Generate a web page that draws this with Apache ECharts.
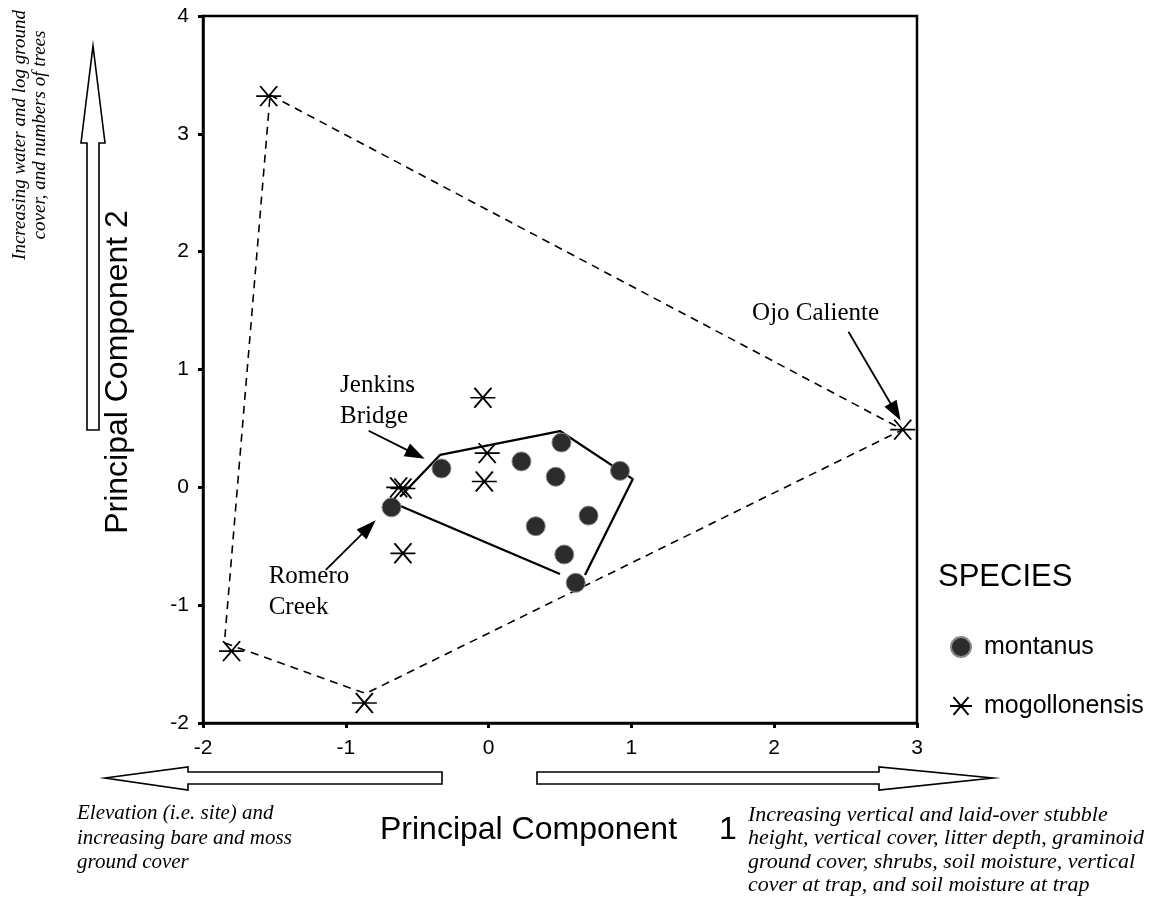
<!DOCTYPE html>
<html><head><meta charset="utf-8">
<script src="https://cdn.jsdelivr.net/npm/echarts@6/dist/echarts.min.js"></script>
<style>html,body{margin:0;padding:0;background:#fff}#c{width:1152px;height:900px}</style>
</head><body><div id="c"></div>
<script>
// ---- data ----
const xTicks = [-2, -1, 0, 1, 2, 3];
const yTicks = [-2, -1, 0, 1, 2, 3, 4];
const speciesNames = ['montanus', 'mogollonensis'];
const montanus = [[-0.68,-0.17],[-0.33,0.16],[0.23,0.22],[0.51,0.38],[0.47,0.09],[0.92,0.14],[0.70,-0.24],[0.33,-0.33],[0.53,-0.57],[0.61,-0.81]];
const mogollonensis = [[-1.54,3.32],[2.90,0.49],[-1.80,-1.39],[-0.87,-1.83],[-0.63,0.00],[-0.60,-0.01],[-0.01,0.29],[-0.03,0.05],[-0.04,0.76],[-0.60,-0.56]];
// dashed outer hull (mogollonensis) vertices
const hullOuter = [[-1.53,3.33],[2.90,0.49],[-0.86,-1.75],[-1.85,-1.32],[-1.53,3.33]];
// solid inner hull (montanus), drawn in two open pieces
const hullInnerA = [[-0.62,-0.08],[-0.34,0.275],[0.50,0.478],[1.01,0.07],[0.675,-0.744]];
const hullInnerB = [[0.50,-0.736],[-0.634,-0.15]];
// annotation arrows [from, to] in data units
const arrows = [
  [[2.52,1.32],[2.85,0.64]],
  [[-0.84,0.48],[-0.51,0.28]],
  [[-1.14,-0.70],[-0.84,-0.34]]
];
const annoTexts = ['Ojo Caliente', 'Jenkins\nBridge', 'Romero\nCreek'];
const annoAnchors = [[2.29,1.48],[-1.04,0.73],[-1.54,-0.89]];
const annoAlign = ['center','left','left'];

const SANS = 'Liberation Sans', SERIF = 'Liberation Serif';
const chart = echarts.init(document.getElementById('c'));
const star = 'path://M0,10 L25,10 M4,0 L21,20 M21,0 L4,20';

const option = {
  animation: false,
  backgroundColor: '#fff',
  grid: {left: 203, top: 16, width: 714, height: 707, show: true, borderColor: '#000', borderWidth: 2.5, backgroundColor: 'transparent'},
  xAxis: {type: 'value', min: xTicks[0], max: xTicks[xTicks.length-1], interval: 1,
    axisLine: {onZero: false, lineStyle: {color: '#000', width: 2.5}}, splitLine: {show: false},
    axisTick: {show: true, length: 5, lineStyle: {color: '#000', width: 3}},
    axisLabel: {color: '#000', fontFamily: SANS, fontSize: 21, margin: 15}},
  yAxis: {type: 'value', min: yTicks[0], max: yTicks[yTicks.length-1], interval: 1,
    axisLine: {onZero: false, lineStyle: {color: '#000', width: 2.5}}, splitLine: {show: false},
    axisTick: {show: true, length: 5, lineStyle: {color: '#000', width: 3}},
    axisLabel: {color: '#000', fontFamily: SANS, fontSize: 21, margin: 14}},
  legend: {data: speciesNames, orient: 'vertical', left: 944, top: 627, itemWidth: 22, itemHeight: 20, itemGap: 29,
    textStyle: {fontFamily: SANS, fontSize: 25, color: '#000', lineHeight: 30, padding: [0,0,0,7]}},
  series: [
    {type: 'line', data: hullOuter, symbol: 'none', silent: true, z: 1,
      lineStyle: {color: '#000', width: 1.6, type: [8, 6]},
      markLine: {silent: true, symbol: ['none', 'triangle'], symbolSize: [14, 20], animation: false,
        lineStyle: {color: '#000', width: 1.8, type: 'solid'}, label: {show: false},
        emphasis: {disabled: true},
        data: arrows.map(a => [{coord: a[0]}, {coord: a[1]}])}},
    {type: 'line', data: hullInnerA, symbol: 'none', silent: true, z: 1, lineStyle: {color: '#000', width: 2.3}},
    {type: 'line', data: hullInnerB, symbol: 'none', silent: true, z: 1, lineStyle: {color: '#000', width: 2.3}},
    {name: 'montanus', type: 'scatter', data: montanus, symbol: 'circle', symbolSize: 19, z: 3,
      itemStyle: {color: '#2c2c2c', borderColor: '#8a8a8a', borderWidth: 1, opacity: 1}},
    {name: 'mogollonensis', type: 'scatter', data: mogollonensis, symbol: star, symbolSize: [25, 20], z: 4,
      itemStyle: {color: 'rgba(0,0,0,0)', borderColor: '#000', borderWidth: 1.8, opacity: 1}}
  ]
};
chart.setOption(option);

const g = [];
annoTexts.forEach((t, i) => {
  const p = chart.convertToPixel({gridIndex: 0}, annoAnchors[i]);
  g.push({type: 'text', x: p[0], y: p[1], silent: true,
    style: {text: t, fontFamily: SERIF, fontSize: 25, lineHeight: 31, fill: '#000', align: annoAlign[i], verticalAlign: 'middle'}});
});
const arrowStyle = {fill: '#fff', stroke: '#000', lineWidth: 1.6};
g.push({type: 'polygon', silent: true, shape: {points: [[87,430],[87,143],[81,143],[93,46],[105,143],[99,143],[99,430]]}, style: arrowStyle});
g.push({type: 'polygon', silent: true, shape: {points: [[442,772],[188,772],[188,767],[105,778],[188,790],[188,784],[442,784]]}, style: arrowStyle});
g.push({type: 'polygon', silent: true, shape: {points: [[537,772],[879,772],[879,767],[993,778],[879,790],[879,784],[537,784]]}, style: arrowStyle});
g.push({type: 'text', x: 30, y: 135, rotation: Math.PI/2, silent: true,
  style: {text: 'Increasing water and log ground\ncover, and numbers of trees', fontFamily: SERIF, fontStyle: 'italic', fontSize: 19, lineHeight: 20, fill: '#000', align: 'center', verticalAlign: 'middle'}});
g.push({type: 'text', x: 118, y: 372, rotation: Math.PI/2, silent: true,
  style: {text: 'Principal Component 2', fontFamily: SANS, fontSize: 32, fill: '#000', align: 'center', verticalAlign: 'middle'}});
g.push({type: 'text', x: 380, y: 830, silent: true,
  style: {text: 'Principal Component', fontFamily: SANS, fontSize: 32, fill: '#000', align: 'left', verticalAlign: 'middle'}});
g.push({type: 'text', x: 728, y: 830, silent: true,
  style: {text: '1', fontFamily: SANS, fontSize: 32, fill: '#000', align: 'center', verticalAlign: 'middle'}});
g.push({type: 'text', x: 77, y: 838, silent: true,
  style: {text: 'Elevation (i.e. site) and\nincreasing bare and moss\nground cover', fontFamily: SERIF, fontStyle: 'italic', fontSize: 21, lineHeight: 24.5, fill: '#000', align: 'left', verticalAlign: 'middle'}});
g.push({type: 'text', x: 748, y: 850, silent: true,
  style: {text: 'Increasing vertical and laid-over stubble\nheight, vertical cover, litter depth, graminoid\nground cover, shrubs, soil moisture, vertical\ncover at trap, and soil moisture at trap', fontFamily: SERIF, fontStyle: 'italic', fontSize: 22, lineHeight: 23.5, fill: '#000', align: 'left', verticalAlign: 'middle'}});
g.push({type: 'text', x: 938, y: 577, silent: true,
  style: {text: 'SPECIES', fontFamily: SANS, fontSize: 31, fill: '#000', align: 'left', verticalAlign: 'middle'}});
chart.setOption({graphic: g});
</script></body></html>
